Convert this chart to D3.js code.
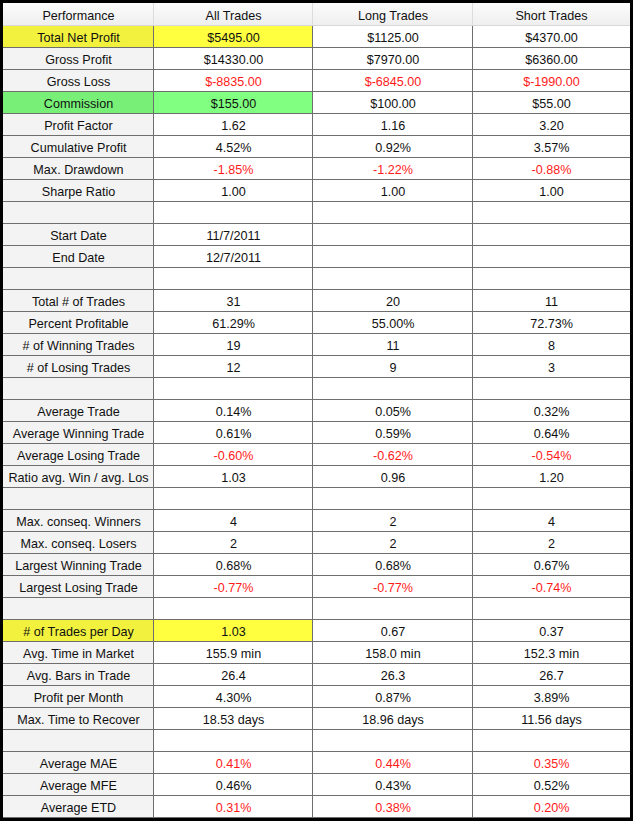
<!doctype html>
<html lang="en">
<head>
<meta charset="utf-8">
<title>Performance</title>
<script src="https://cdn.jsdelivr.net/npm/d3@7"></script>
<style>
  body { margin: 0; background: #000; }
  svg { display: block; }
  text { font-family: "Liberation Sans", Arial, sans-serif; font-size: 12.6px; fill: #101010; }
</style>
</head>
<body>
<script>
    // table contents
    var headers = ["Performance", "All Trades", "Long Trades", "Short Trades"];

    var metrics = ["Total Net Profit", "Gross Profit", "Gross Loss", "Commission", "Profit Factor",
        "Cumulative Profit", "Max. Drawdown", "Sharpe Ratio", "",
        "Start Date", "End Date", "",
        "Total # of Trades", "Percent Profitable", "# of Winning Trades", "# of Losing Trades", "",
        "Average Trade", "Average Winning Trade", "Average Losing Trade", "Ratio avg. Win / avg. Los", "",
        "Max. conseq. Winners", "Max. conseq. Losers", "Largest Winning Trade", "Largest Losing Trade", "",
        "# of Trades per Day", "Avg. Time in Market", "Avg. Bars in Trade", "Profit per Month", "Max. Time to Recover", "",
        "Average MAE", "Average MFE", "Average ETD"];

    var allTrades = ["$5495.00", "$14330.00", "$-8835.00", "$155.00", "1.62",
        "4.52%", "-1.85%", "1.00", "",
        "11/7/2011", "12/7/2011", "",
        "31", "61.29%", "19", "12", "",
        "0.14%", "0.61%", "-0.60%", "1.03", "",
        "4", "2", "0.68%", "-0.77%", "",
        "1.03", "155.9 min", "26.4", "4.30%", "18.53 days", "",
        "0.41%", "0.46%", "0.31%"];

    var longTrades = ["$1125.00", "$7970.00", "$-6845.00", "$100.00", "1.16",
        "0.92%", "-1.22%", "1.00", "",
        "", "", "",
        "20", "55.00%", "11", "9", "",
        "0.05%", "0.59%", "-0.62%", "0.96", "",
        "2", "2", "0.68%", "-0.77%", "",
        "0.67", "158.0 min", "26.3", "0.87%", "18.96 days", "",
        "0.44%", "0.43%", "0.38%"];

    var shortTrades = ["$4370.00", "$6360.00", "$-1990.00", "$55.00", "3.20",
        "3.57%", "-0.88%", "1.00", "",
        "", "", "",
        "11", "72.73%", "8", "3", "",
        "0.32%", "0.64%", "-0.54%", "1.20", "",
        "4", "2", "0.67%", "-0.74%", "",
        "0.37", "152.3 min", "26.7", "3.89%", "11.56 days", "",
        "0.35%", "0.52%", "0.20%"];

    // which rows get red values / highlighted cells
    var redRows = ["Gross Loss", "Max. Drawdown", "Average Losing Trade", "Largest Losing Trade",
        "Average MAE", "Average ETD"];
    var yellowRows = ["Total Net Profit", "# of Trades per Day"];
    var greenRows = ["Commission"];

    var W = 633, H = 821;
    var colEdges = [3, 154, 313, 473, 630];
    var headTop = 3, bodyTop = 26, bodyBottom = 818;

    var svg = d3.select("body").append("svg").attr("width", W).attr("height", H);
    svg.append("rect").attr("width", W).attr("height", H).attr("fill", "#000");

    var rows = metrics.map(function(m, i){
        return [m, allTrades[i], longTrades[i], shortTrades[i]];
    });

    var y = d3.scaleBand().domain(d3.range(rows.length)).range([bodyTop, bodyBottom]);
    var col = d3.scaleOrdinal().domain(d3.range(4)).range(colEdges.slice(0, 4));
    var colW = function(j){ return colEdges[j + 1] - colEdges[j]; };

    // header gradient
    var grad = svg.append("defs").append("linearGradient").attr("id", "hg")
        .attr("x1", 0).attr("y1", 0).attr("x2", 0).attr("y2", 1);
    grad.append("stop").attr("offset", "0%").attr("stop-color", "#fcfcfc");
    grad.append("stop").attr("offset", "100%").attr("stop-color", "#eeeeee");

    svg.append("rect").attr("x", 3).attr("y", headTop)
        .attr("width", colEdges[4] - 3).attr("height", bodyTop - headTop)
        .attr("fill", "url(#hg)");

    var head = svg.append("g");
    head.selectAll("line").data([1, 2, 3]).enter().append("line")
        .attr("x1", function(j){ return col(j) - 0.5; })
        .attr("x2", function(j){ return col(j) - 0.5; })
        .attr("y1", headTop).attr("y2", bodyTop)
        .attr("stroke", "#dcdcdc");
    head.append("line").attr("x1", 3).attr("x2", colEdges[4])
        .attr("y1", bodyTop - 0.5).attr("y2", bodyTop - 0.5).attr("stroke", "#d8d8d8");
    head.selectAll("text").data(headers).enter().append("text")
        .attr("x", function(d, j){ return col(j) + colW(j) / 2; })
        .attr("y", (headTop + bodyTop) / 2 + 1)
        .attr("text-anchor", "middle").attr("dominant-baseline", "central")
        .text(function(d){ return d; });

    // body cells
    function cellFill(r, j){
        var m = r[0];
        if (j < 2 && yellowRows.indexOf(m) >= 0) return j === 0 ? "#f2f23e" : "#ffff40";
        if (j < 2 && greenRows.indexOf(m) >= 0) return j === 0 ? "#78f078" : "#80ff80";
        return j === 0 ? "#f3f3f3" : "#ffffff";
    }

    var rowG = svg.append("g").selectAll("g").data(rows).enter().append("g")
        .attr("transform", function(d, i){ return "translate(0," + y(i) + ")"; });

    rowG.selectAll("rect").data(function(d){ return d.map(function(v, j){ return {row: d, j: j}; }); })
        .enter().append("rect")
        .attr("x", function(d){ return col(d.j); })
        .attr("y", 0)
        .attr("width", function(d){ return colW(d.j); })
        .attr("height", y.bandwidth())
        .attr("fill", function(d){ return cellFill(d.row, d.j); });

    rowG.selectAll("text").data(function(d){ return d.map(function(v, j){ return {row: d, v: v, j: j}; }); })
        .enter().append("text")
        .attr("x", function(d){ return col(d.j) + colW(d.j) / 2; })
        .attr("y", y.bandwidth() / 2 + 1)
        .attr("text-anchor", "middle").attr("dominant-baseline", "central")
        .style("fill", function(d){ return d.j > 0 && redRows.indexOf(d.row[0]) >= 0 ? "#ff1a1a" : null; })
        .text(function(d){ return d.v; });

    // grid lines
    var grid = svg.append("g").attr("stroke", "#6e6e6e");
    grid.selectAll(".h").data(d3.range(rows.length)).enter().append("line")
        .attr("x1", 3).attr("x2", colEdges[4])
        .attr("y1", function(i){ return y(i) + y.bandwidth() - 0.5; })
        .attr("y2", function(i){ return y(i) + y.bandwidth() - 0.5; });
    grid.selectAll(".v").data([1, 2, 3]).enter().append("line")
        .attr("x1", function(j){ return col(j) - 0.5; })
        .attr("x2", function(j){ return col(j) - 0.5; })
        .attr("y1", bodyTop).attr("y2", bodyBottom);
</script>
</body>
</html>
